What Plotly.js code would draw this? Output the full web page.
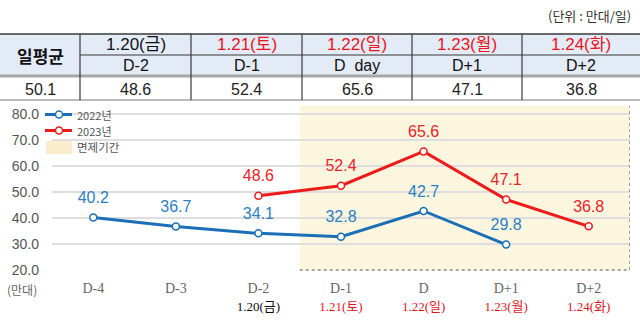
<!DOCTYPE html>
<html>
<head>
<meta charset="utf-8">
<script src="https://cdn.plot.ly/plotly-3.0.1.min.js"></script>
<style>html,body{margin:0;padding:0;background:#fff;}#chart{width:640px;height:325px;}</style>
</head>
<body>
<div id="chart"></div>
<script>
// ---- data ----
var categories = ['D-4', 'D-3', 'D-2', 'D-1', 'D', 'D+1', 'D+2'];
var dateLabels = ['', '', '1.20(금)', '1.21(토)', '1.22(일)', '1.23(월)', '1.24(화)'];
var dateIsHoliday = [false, false, false, true, true, true, true];
var values2022 = [40.2, 36.7, 34.1, 32.8, 42.7, 29.8, null];
var values2023 = [null, null, 48.6, 52.4, 65.6, 47.1, 36.8];
var seriesNames = ['2022년', '2023년'];
var holidayName = '면제기간';
var holidayStart = 2.5, holidayEnd = 6.5;

var tableHeadLabel = '일평균';
var tableAverage = 50.1;
var tableDates = ['1.20(금)', '1.21(토)', '1.22(일)', '1.23(월)', '1.24(화)'];
var tableDatesRed = [false, true, true, true, true];
var tableDLabels = ['D-2', 'D-1', 'D  day', 'D+1', 'D+2'];
var tableValues = [48.6, 52.4, 65.6, 47.1, 36.8];
var unitText = '(단위 : 만대/일)';
var yUnitText = '(만대)';

// ---- helpers ----
var W = 640, H = 325;
function px(x) { return x / W; }
function py(y) { return 1 - y / H; }

var BLUE = '#1b6fb7', RED = '#ee1b1b';
var BLUE_T = '#2c80c4', RED_T = '#ea2328';
var sansN = 'Liberation Sans Narrow, Liberation Sans, Noto Sans CJK KR, sans-serif';
var serif = 'Liberation Serif, DejaVu Serif, Noto Sans CJK KR, serif';
var kr = 'Noto Sans CJK KR, sans-serif';

var ticktext = categories.map(function (c, i) {
  var t = c;
  if (dateLabels[i]) {
    t += '<br><span style="font-size:13px;color:' + (dateIsHoliday[i] ? '#e3161c' : '#111') + '">' + dateLabels[i] + '</span>';
  }
  return t;
});
var xs = categories.map(function (c, i) { return i; });

function labelTrace(vals, color) {
  return { x: xs, y: vals, type: 'scatter', mode: 'markers+text', showlegend: false, hoverinfo: 'skip',
    marker: { size: 15, opacity: 0 },
    text: vals.map(function (v) { return v == null ? '' : v.toFixed(1); }),
    textposition: 'top center', textfont: { family: sansN, size: 16, color: color }, cliponaxis: false };
}

var traces = [
  { x: xs, y: values2022, name: seriesNames[0], type: 'scatter', mode: 'lines+markers', showlegend: false,
    line: { color: BLUE, width: 3 }, marker: { size: 7, color: '#fff', line: { color: BLUE, width: 1.5 } },
    connectgaps: false, cliponaxis: false },
  { x: xs, y: values2023, name: seriesNames[1], type: 'scatter', mode: 'lines+markers', showlegend: false,
    line: { color: RED, width: 3 }, marker: { size: 7, color: '#fff', line: { color: RED, width: 1.5 } },
    connectgaps: false, cliponaxis: false },
  labelTrace(values2022, BLUE_T),
  labelTrace(values2023, RED_T)
];

var shapes = [];
var annotations = [];
function ann(x, y, text, font, xa) {
  annotations.push({ xref: 'paper', yref: 'paper', x: px(x), y: py(y), text: text, showarrow: false,
    xanchor: xa || 'center', yanchor: 'middle', font: font });
}
function pline(x0, y0, x1, y1, line) {
  shapes.push({ type: 'line', xref: 'paper', yref: 'paper', x0: px(x0), x1: px(x1), y0: py(y0), y1: py(y1), line: line });
}

// ---- table ----
var colEdges = [0, 80, 191, 302, 412, 522, 640];
function colCenter(i) { return (colEdges[i] + colEdges[i + 1]) / 2; }

shapes.push({ type: 'rect', xref: 'paper', yref: 'paper', x0: px(0), x1: px(640), y0: py(34), y1: py(75),
  fillcolor: '#e3ebf6', line: { width: 0 }, layer: 'below' });
pline(0, 34, 640, 34, { color: '#3a3a3a', width: 1.5 });
pline(colEdges[1], 55, 640, 55, { color: '#3a3a3a', width: 1.2 });
pline(0, 76, 640, 76, { color: '#a6a6a6', width: 3 });
pline(0, 100, 640, 100, { color: '#777', width: 1 });
for (var k = 1; k < colEdges.length - 1; k++) {
  pline(colEdges[k], 34, colEdges[k], 100, { color: '#3a3a3a', width: 1.2 });
}

ann(colCenter(0), 55, tableHeadLabel, { family: kr, size: 17, color: '#111', weight: 'bold' });
ann(colCenter(0), 89, tableAverage.toFixed(1), { family: sansN, size: 16, color: '#222' });
for (var i = 0; i < tableDates.length; i++) {
  ann(colCenter(i + 1), 45, tableDates[i], { family: sansN, size: 17, color: tableDatesRed[i] ? '#e8141c' : '#111' });
  ann(colCenter(i + 1), 66, tableDLabels[i].replace(/ /g, '&nbsp;'), { family: sansN, size: 16, color: '#111' });
  ann(colCenter(i + 1), 89, tableValues[i].toFixed(1), { family: sansN, size: 16, color: '#222' });
}
ann(633, 15, unitText.replace(/ /g, '&nbsp;'), { family: kr, size: 13, color: '#333' }, 'right');
ann(22, 289, yUnitText, { family: kr, size: 12, color: '#666' });

// ---- legend (manual) ----
var legendRows = [
  { name: seriesNames[0], color: BLUE, y: 114.5 },
  { name: seriesNames[1], color: RED, y: 130.5 }
];
legendRows.forEach(function (r) {
  pline(45, r.y, 72, r.y, { color: r.color, width: 3 });
  shapes.push({ type: 'circle', xref: 'paper', yref: 'paper', x0: px(55.5), x1: px(62.5), y0: py(r.y + 3.5), y1: py(r.y - 3.5),
    fillcolor: '#fff', line: { color: r.color, width: 1.5 } });
  ann(75, r.y, r.name, { family: kr, size: 11, color: '#555' }, 'left');
});
shapes.push({ type: 'rect', xref: 'paper', yref: 'paper', x0: px(46), x1: px(72), y0: py(154), y1: py(141),
  fillcolor: '#fbeccb', line: { width: 0 } });
ann(75, 147.5, holidayName, { family: kr, size: 11.5, color: '#555' }, 'left');

// ---- holiday shading ----
shapes.push({ type: 'rect', xref: 'x', yref: 'y domain', x0: holidayStart, x1: holidayEnd, y0: 0, y1: 1,
  fillcolor: '#fcf6df', line: { width: 0 }, layer: 'below' });
shapes.push({ type: 'line', xref: 'x', yref: 'y domain', x0: holidayStart, x1: holidayEnd, y0: 0, y1: 0,
  line: { color: '#555', width: 1, dash: 'dot' } });
shapes.push({ type: 'line', xref: 'x', yref: 'y domain', x0: holidayEnd, x1: holidayEnd, y0: 0, y1: 1,
  line: { color: '#555', width: 1, dash: 'dot' } });

var layout = {
  width: W, height: H,
  margin: { l: 0, r: 0, t: 0, b: 0 },
  paper_bgcolor: '#fff', plot_bgcolor: 'rgba(0,0,0,0)',
  showlegend: false,
  xaxis: { domain: [px(52), px(630)], range: [-0.5, 6.5], tickvals: xs, ticktext: ticktext,
    showgrid: false, zeroline: false, showline: false, ticks: '', ticklabelstandoff: 8,
    tickfont: { family: serif, size: 14, color: '#666' }, fixedrange: true },
  yaxis: { domain: [py(270), py(106)], range: [20, 20 + (270 - 106) / 2.6], tickvals: [20, 30, 40, 50, 60, 70, 80],
    tickformat: '.1f', showgrid: true, gridcolor: '#dedede', gridwidth: 1.5, zeroline: false, showline: false,
    ticks: '', ticklabelstandoff: 12, tickfont: { family: sansN, size: 14, color: '#555' }, fixedrange: true },
  shapes: shapes,
  annotations: annotations
};

Plotly.newPlot('chart', traces, layout, { staticPlot: true, displayModeBar: false });
</script>
</body>
</html>
